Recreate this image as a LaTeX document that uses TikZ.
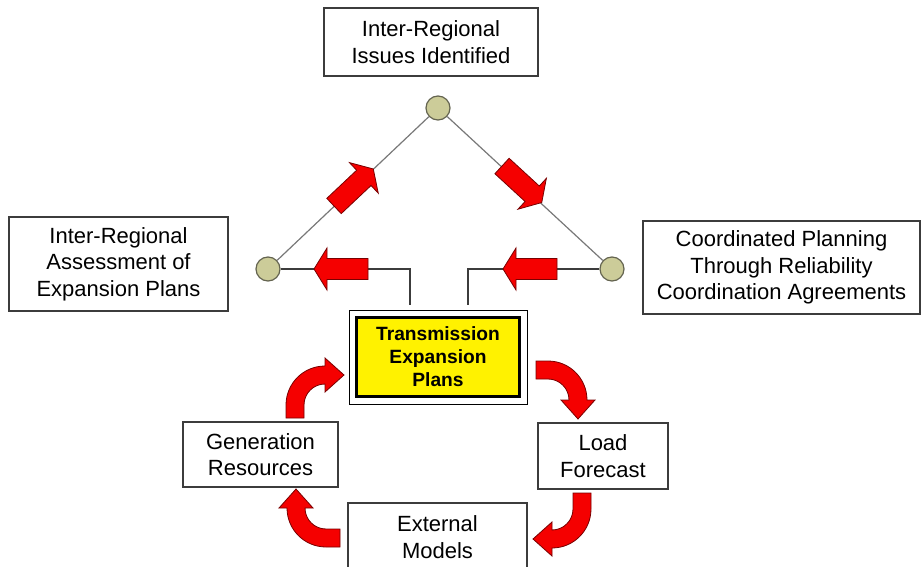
\documentclass[tikz,border=0pt]{standalone}
\usepackage{fontspec}
\setmainfont{Liberation Sans}
\usetikzlibrary{calc}
\definecolor{boxrim}{RGB}{60,60,60}
\definecolor{khaki}{RGB}{204,204,153}
\definecolor{dotrim}{RGB}{100,100,80}
\definecolor{linkgray}{RGB}{120,120,120}
\definecolor{arrowrim}{RGB}{120,0,0}
\definecolor{arrowred}{RGB}{245,0,0}
\newcommand\straightarr[3]{%
  \begin{scope}[shift={(#1,#2)}, rotate=#3]
    \filldraw[redarrow] (0,-10.5) -- (41,-10.5) -- (41,-21) -- (54,0) -- (41,21) -- (41,10.5) -- (0,10.5) -- cycle;
  \end{scope}}
\newcommand\bentarr[4]{%
  \begin{scope}[shift={(#1,#2)}, rotate=#3]
    \filldraw[redarrow] (-39,#4) -- (-39,0) arc[start angle=180, end angle=270, radius=39]
      -- (0,-47) -- (19,-30) -- (0,-13) -- (0,-21)
      arc[start angle=270, end angle=180, radius=21] -- (-21,#4) -- cycle;
  \end{scope}}
\begin{document}
\begin{tikzpicture}[x=0.5pt,y=-0.5pt,
  box/.style={draw=boxrim, line width=0.6pt, fill=white, align=center, inner sep=0pt,
    font=\fontsize{11}{13.3}\selectfont},
  mainbox/.style={draw=black, line width=1.5pt, fill=yellow, align=center, inner sep=0pt,
    font=\bfseries\fontsize{9.6}{11.5}\selectfont},
  dot/.style={circle, draw=dotrim, line width=0.6pt, fill=khaki, minimum size=12pt, inner sep=0pt},
  link/.style={draw=linkgray, line width=0.6pt},
  bracket/.style={draw=boxrim, line width=0.6pt},
  redarrow/.style={fill=arrowred, draw=arrowrim, line width=0.4pt, line join=miter}]
\useasboundingbox (0,0) rectangle (922,567);

% boxes
\node[box, minimum width=107pt, minimum height=34pt] (issues) at (431,42) {Inter-Regional\\Issues Identified};
\node[box, minimum width=109.5pt, minimum height=47pt] (assess) at (118.5,264) {Inter-Regional\\Assessment of\\Expansion Plans};
\node[box, minimum width=138.5pt, minimum height=46.5pt] (coord) at (781.5,267.5) {Coordinated Planning\\Through Reliability\\Coordination Agreements};
\node[box, minimum width=77.5pt, minimum height=32.5pt] (gen) at (260.5,454.5) {Generation\\Resources};
\node[box, minimum width=65pt, minimum height=33pt] (load) at (603,456) {Load\\Forecast};
\node[box, minimum width=89.5pt, minimum height=34pt] (ext) at (437.5,537) {External\\Models};

% main box
\node[mainbox, minimum width=81.5pt, minimum height=39.5pt] (tep) at (438,357) {Transmission\\Expansion\\Plans};
\draw[black, line width=0.5pt] ($(tep.north west)+(-6,-6)$) rectangle ($(tep.south east)+(6,6)$);

% circles
\node[dot] (top) at (438,108) {};
\node[dot] (lc) at (268,269) {};
\node[dot] (rc) at (612,269) {};

% connectors
\draw[link] (top) -- (lc);
\draw[link] (top) -- (rc);
\draw[bracket] (lc) -| ($(tep.north)+(-28,-11)$);
\draw[bracket] (rc) -| ($(tep.north)+(30,-11)$);

% straight red arrows
\straightarr{368}{269}{180}
\straightarr{557}{269}{180}
\straightarr{334}{206}{43.3}
\straightarr{502}{166}{-42.6}

% bent red arrows
\bentarr{325}{405}{0}{13}
\bentarr{548}{400}{-90}{12}
\bentarr{552}{509}{180}{16}
\bentarr{326}{508}{90}{14}
\end{tikzpicture}
\end{document}
